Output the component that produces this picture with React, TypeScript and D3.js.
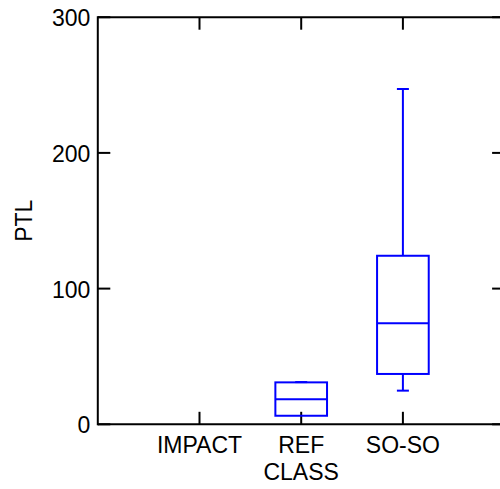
import React from "react";
import * as d3 from "d3";

// Category axis and box-plot summaries for PTL by class
const categories = ["IMPACT", "REF", "SO-SO"];
const yTicks = [0, 100, 200, 300];

// Five-number summaries per class (null = no observations)
const mins: (number | null)[] = [null, 6.3, 24.8];
const q1s: (number | null)[] = [null, 6.3, 37.1];
const medians: (number | null)[] = [null, 18.4, 74.4];
const q3s: (number | null)[] = [null, 30.9, 124.2];
const maxs: (number | null)[] = [null, 31.1, 247.1];

const W = 500;
const H = 489;
const FONT = "'Liberation Sans', Arial, Helvetica, sans-serif";

export default function App() {
  const x = d3.scaleLinear().domain([0, categories.length + 1]).range([97.8, 504.6]);
  const y = d3.scaleLinear().domain([0, 300]).range([424.3, 17.2]);
  const boxW = x(0.508) - x(0);
  const capW = 12;
  const tickLen = 12.5;
  const axisColor = "#000";
  const boxColor = "#0000ff";

  const boxes = categories.map((c, i) => ({
    cat: c,
    pos: i + 1,
    min: mins[i],
    q1: q1s[i],
    med: medians[i],
    q3: q3s[i],
    max: maxs[i],
  }));

  const [x0, x1] = x.range();
  const [yb, yt] = y.range();

  return (
    <svg
      width={W}
      height={H}
      style={{ position: "fixed", left: 0, top: 0, background: "#fff" }}
      fontFamily={FONT}
    >
      <rect x={0} y={0} width={W} height={H} fill="#fff" />

      {/* frame */}
      <g stroke={axisColor} strokeWidth={2} fill="none">
        <line x1={x0} x2={x1} y1={yt} y2={yt} />
        <line x1={x0} x2={x1} y1={yb} y2={yb} />
        <line x1={x0} x2={x0} y1={yt - 1} y2={yb + 1} />
        <line x1={x1} x2={x1} y1={yt - 1} y2={yb + 1} />
      </g>

      {/* y ticks, left and right, pointing inward */}
      <g stroke={axisColor} strokeWidth={2}>
        {yTicks.map((t) => (
          <g key={t}>
            <line x1={x0} x2={x0 + tickLen} y1={y(t)} y2={y(t)} />
            <line x1={x1} x2={x1 - tickLen} y1={y(t)} y2={y(t)} />
          </g>
        ))}
      </g>
      <g fontSize={23} textAnchor="end" fill="#000">
        {yTicks.map((t) => (
          <text key={t} x={x0 - 7.5} y={y(t) + 9}>
            {t}
          </text>
        ))}
      </g>

      {/* x ticks, bottom and top */}
      <g stroke={axisColor} strokeWidth={2}>
        {categories.map((c, i) => (
          <g key={c}>
            <line x1={x(i + 1)} x2={x(i + 1)} y1={yb} y2={yb - tickLen} />
            <line x1={x(i + 1)} x2={x(i + 1)} y1={yt} y2={yt + tickLen} />
          </g>
        ))}
      </g>
      <g fontSize={23} textAnchor="middle" fill="#000">
        {categories.map((c, i) => (
          <text key={c} x={x(i + 1)} y={453}>
            {c}
          </text>
        ))}
      </g>

      {/* axis titles */}
      <text x={(x0 + x1) / 2} y={480} fontSize={23} textAnchor="middle" fill="#000">
        CLASS
      </text>
      <text
        transform={`translate(31.7, ${(yt + yb) / 2}) rotate(-90)`}
        fontSize={23}
        textAnchor="middle"
        fill="#000"
      >
        PTL
      </text>

      {/* box plots */}
      <g stroke={boxColor} strokeWidth={2} fill="none">
        {boxes
          .filter((b) => b.q1 !== null)
          .map((b) => {
            const cx = x(b.pos);
            return (
              <g key={b.cat}>
                <line x1={cx} x2={cx} y1={y(b.q3 as number)} y2={y(b.max as number)} />
                <line x1={cx} x2={cx} y1={y(b.q1 as number)} y2={y(b.min as number)} />
                {(b.max as number) > (b.q3 as number) && (
                  <line
                    x1={cx - capW / 2}
                    x2={cx + capW / 2}
                    y1={y(b.max as number)}
                    y2={y(b.max as number)}
                  />
                )}
                {(b.min as number) < (b.q1 as number) && (
                  <line
                    x1={cx - capW / 2}
                    x2={cx + capW / 2}
                    y1={y(b.min as number)}
                    y2={y(b.min as number)}
                  />
                )}
                <rect
                  x={cx - boxW / 2}
                  y={y(b.q3 as number)}
                  width={boxW}
                  height={y(b.q1 as number) - y(b.q3 as number)}
                />
                <line
                  x1={cx - boxW / 2}
                  x2={cx + boxW / 2}
                  y1={y(b.med as number)}
                  y2={y(b.med as number)}
                />
              </g>
            );
          })}
      </g>
    </svg>
  );
}
